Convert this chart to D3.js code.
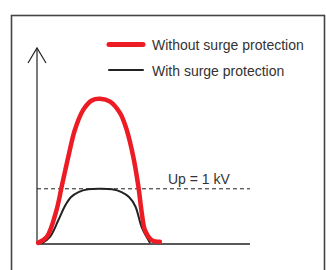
<!DOCTYPE html>
<html>
<head>
<meta charset="utf-8">
<script src="https://cdn.jsdelivr.net/npm/d3@7"></script>
<style>
  html, body { margin: 0; padding: 0; background: #fff; }
  svg { display: block; }
</style>
</head>
<body>
<svg id="chart" width="326" height="270"></svg>
<script>
// Data (x: time, arbitrary units; y: voltage in kV)
const seriesNames = ["Without surge protection", "With surge protection"];
const withoutX = [0.05, 0.46, 0.92, 1.16, 1.47, 1.78, 2.17, 2.57, 2.96, 3.43, 3.90, 4.21, 4.52, 4.76, 4.92, 5.07, 5.38, 5.77];
const withoutY = [0.02, 0.13, 0.62, 1.04, 1.58, 2.07, 2.43, 2.60, 2.63, 2.58, 2.37, 2.07, 1.58, 1.04, 0.56, 0.25, 0.07, 0.04];
const withX = [0.22, 0.61, 1.00, 1.30, 1.60, 1.95, 2.40, 2.96, 3.52, 3.97, 4.32, 4.62, 4.92, 5.31];
const withY = [0.01, 0.13, 0.43, 0.68, 0.85, 0.94, 0.99, 1.00, 0.99, 0.94, 0.85, 0.68, 0.30, 0.02];
const upLevel = 1;
const upLabel = "Up = 1 kV";

const svg = d3.select("#chart");
const red = "#ed1c24", dark = "#222", textCol = "#333";

// Frame
svg.append("rect")
  .attr("x", 11.5).attr("y", 15.5).attr("width", 313).attr("height", 280)
  .attr("fill", "none").attr("stroke", "#444").attr("stroke-width", 1.6);

const x = d3.scaleLinear().domain([0, 10]).range([37, 250]);
const y = d3.scaleLinear().domain([0, 3.55]).range([244, 48]);

// Axes
svg.append("line")
  .attr("x1", x(0)).attr("x2", x(10)).attr("y1", y(0)).attr("y2", y(0))
  .attr("stroke", dark).attr("stroke-width", 1.5);
svg.append("line")
  .attr("x1", x(0)).attr("x2", x(0)).attr("y1", y(0)).attr("y2", y(3.55))
  .attr("stroke", dark).attr("stroke-width", 1.2);
svg.append("path")
  .attr("d", `M${x(0) - 9},${y(3.55) + 15} L${x(0)},${y(3.55)} L${x(0) + 9},${y(3.55) + 15}`)
  .attr("fill", "none").attr("stroke", dark).attr("stroke-width", 1.2);

// Up level dashed line
svg.append("line")
  .attr("x1", x(0)).attr("x2", x(10)).attr("y1", y(upLevel)).attr("y2", y(upLevel))
  .attr("stroke", dark).attr("stroke-width", 1).attr("stroke-dasharray", "4,3");
svg.append("text")
  .attr("x", 168).attr("y", y(upLevel) - 5)
  .attr("font-family", "Liberation Sans, Arial, sans-serif").attr("font-size", 14)
  .attr("fill", textCol).text(upLabel);

const line = d3.line().x(d => x(d[0])).y(d => y(d[1])).curve(d3.curveCatmullRom.alpha(0.5));

svg.append("path")
  .datum(withX.map((v, i) => [v, withY[i]]))
  .attr("d", line).attr("fill", "none").attr("stroke", dark).attr("stroke-width", 2);

svg.append("path")
  .datum(withoutX.map((v, i) => [v, withoutY[i]]))
  .attr("d", line).attr("fill", "none").attr("stroke", red).attr("stroke-width", 4.5)
  .attr("stroke-linecap", "round");

// Legend
const legend = [
  { name: seriesNames[0], color: red, w: 5, ly: 44.5, ty: 50 },
  { name: seriesNames[1], color: dark, w: 2, ly: 70, ty: 75.5 }
];
legend.forEach(l => {
  svg.append("line")
    .attr("x1", 109).attr("x2", 143).attr("y1", l.ly).attr("y2", l.ly)
    .attr("stroke", l.color).attr("stroke-width", l.w).attr("stroke-linecap", "round");
  svg.append("text")
    .attr("x", 152).attr("y", l.ty)
    .attr("font-family", "Liberation Sans, Arial, sans-serif").attr("font-size", 14)
    .attr("fill", textCol).text(l.name);
});
</script>
</body>
</html>
